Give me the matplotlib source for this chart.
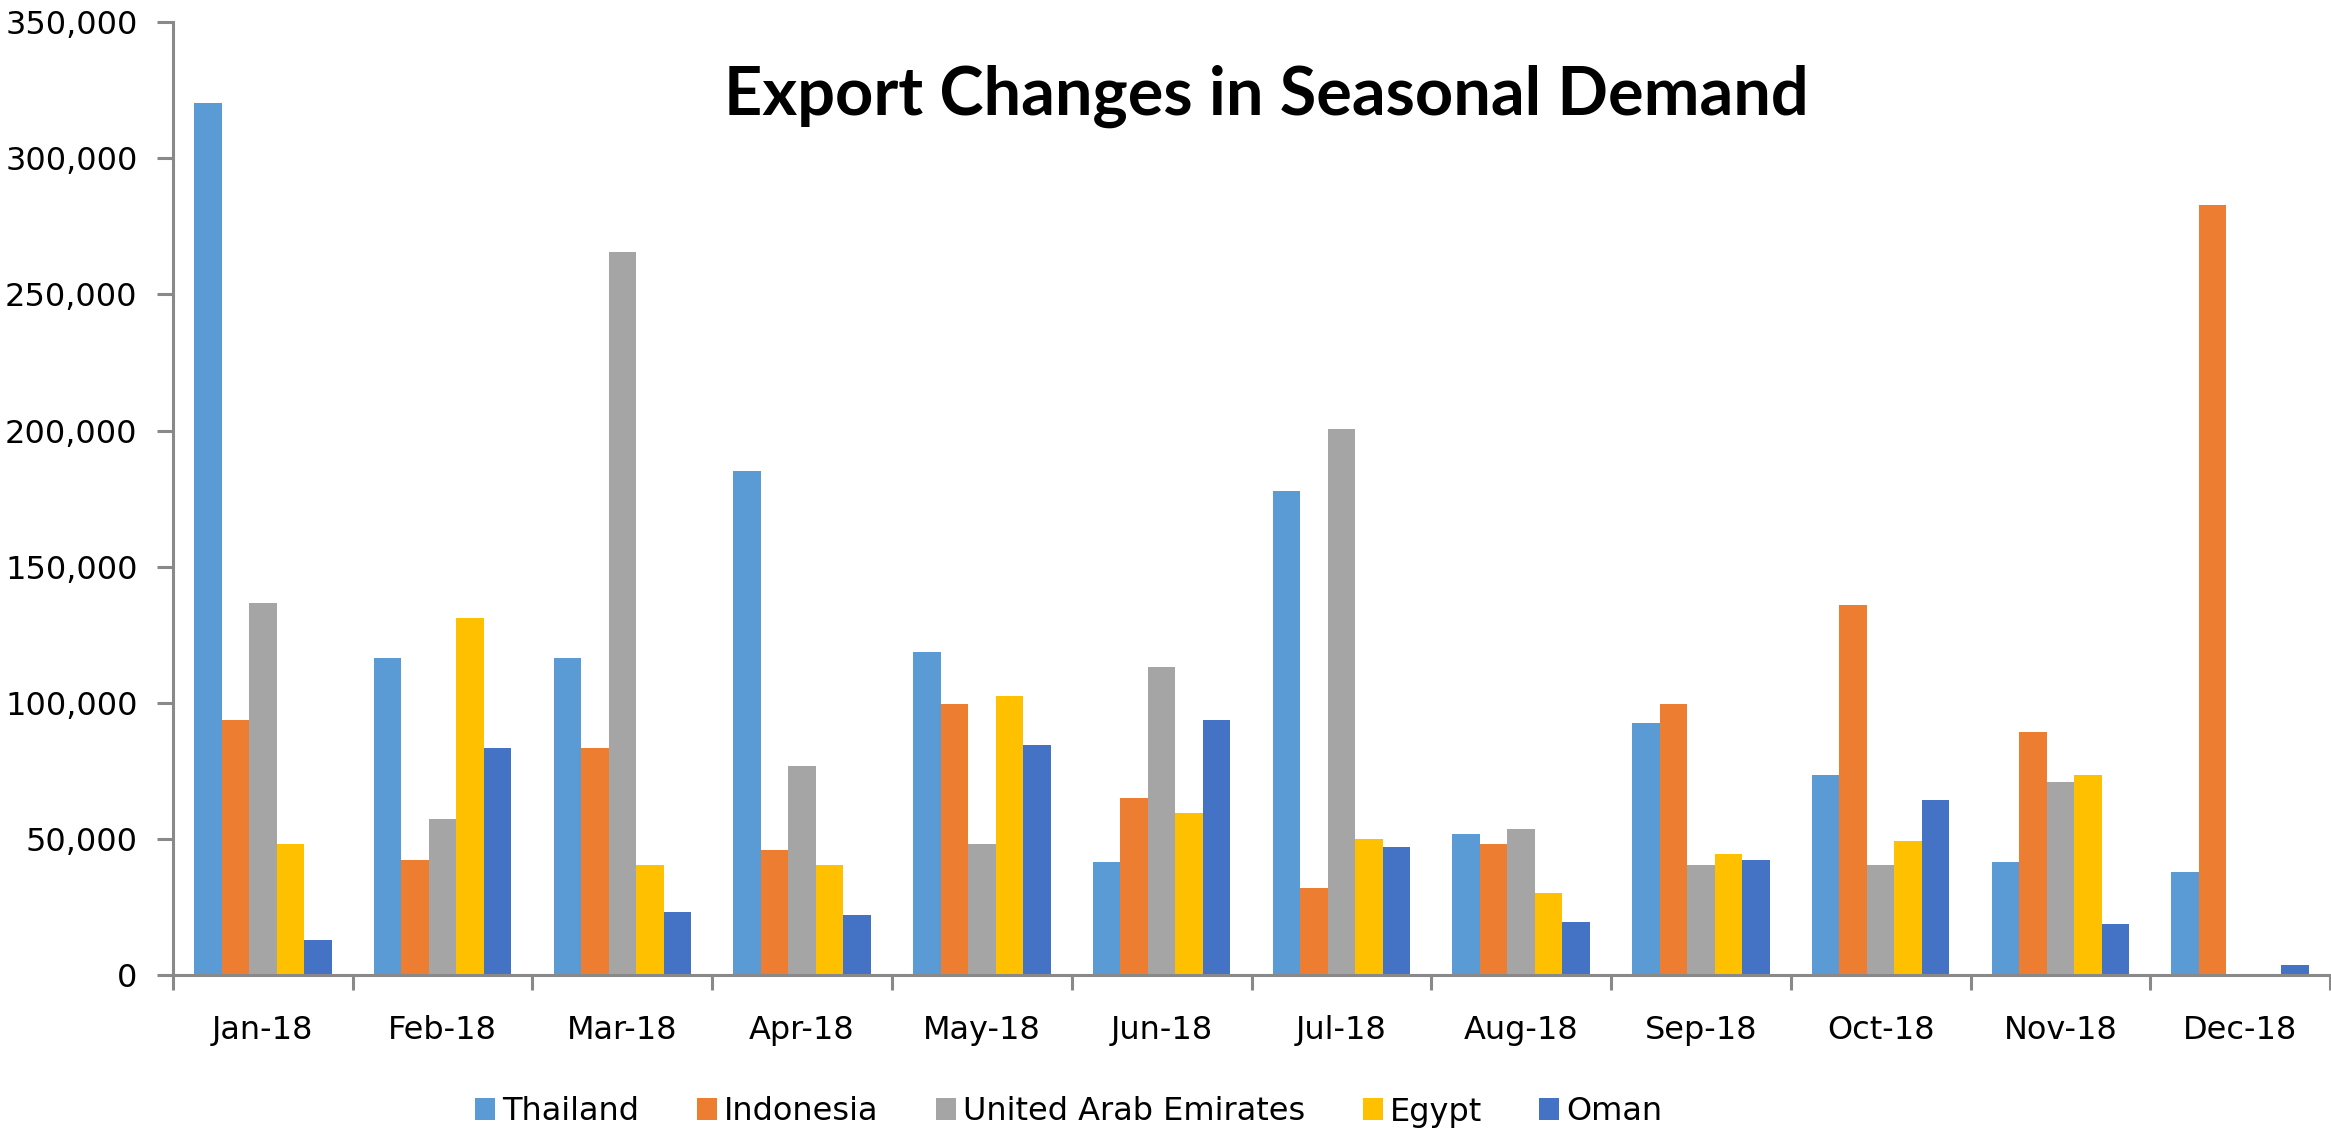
import numpy as np
import matplotlib
matplotlib.use("Agg")
import matplotlib.pyplot as plt
from matplotlib.ticker import FuncFormatter, FixedLocator

# Datos
meses = ["Jan-18", "Feb-18", "Mar-18", "Apr-18", "May-18", "Jun-18",
         "Jul-18", "Aug-18", "Sep-18", "Oct-18", "Nov-18", "Dec-18"]
paises = ["Thailand", "Indonesia", "United Arab Emirates", "Egypt", "Oman"]

thailand = [320500, 116400, 116400, 185100, 118800, 41400,
            177900, 51700, 92500, 73500, 41400, 37700]
indonesia = [93600, 42400, 83300, 45900, 99400, 65200,
             32100, 48000, 99400, 135800, 89100, 283000]
uae = [136800, 57300, 265700, 76600, 48000, 113000,
       200700, 53800, 40300, 40300, 70800, 0]
egypt = [48000, 131300, 40300, 40300, 102600, 59400,
         50100, 30000, 44600, 49100, 73500, 0]
oman = [12700, 83300, 23100, 22000, 84600, 93600,
        46900, 19600, 42400, 64200, 18600, 3600]

colores = ["#5B9BD5", "#ED7D31", "#A5A5A5", "#FFC000", "#4472C4"]
gris = "#898989"

series = [thailand, indonesia, uae, egypt, oman]

fig = plt.figure(figsize=(23.31, 11.32), dpi=100)
ax = fig.add_axes([0.0742, 0.1387, 0.9254, 0.8416])

x = np.arange(len(meses))
ancho = 0.153  # ancho de cada barra
barras = []
for i, (vals, col) in enumerate(zip(series, colores)):
    pos = x + (i - 2) * ancho
    b = ax.bar(pos, vals, width=ancho, color=col, linewidth=0)
    barras.append(b)

ax.set_xlim(-0.5, len(meses) - 0.5)
ax.set_ylim(0, 350000)
ax.set_yticks(np.arange(0, 350001, 50000))
ax.yaxis.set_major_formatter(FuncFormatter(lambda v, p: "{:,.0f}".format(v)))

# etiquetas en el centro, marcas entre categorias
ax.set_xticks(x)
ax.set_xticklabels(meses)
ax.xaxis.set_minor_locator(FixedLocator(np.arange(-0.5, len(meses), 1.0)))
ax.tick_params(axis="x", which="major", length=0, pad=29, labelsize=23)
ax.tick_params(axis="x", which="minor", length=11, width=2.2, color=gris,
               direction="out")
ax.tick_params(axis="y", length=11.5, width=2.2, color=gris, pad=14,
               labelsize=23, direction="out")

for s in ["top", "right"]:
    ax.spines[s].set_visible(False)
for s in ["left", "bottom"]:
    ax.spines[s].set_color(gris)
    ax.spines[s].set_linewidth(2.2)

fig.text(1266 / 2331, 1 - 96 / 1132, "Export Changes in Seasonal Demand",
         ha="center", va="center", fontsize=48, fontweight="bold",
         family="Lato")

fig.legend(barras, paises, loc="center", ncol=5, frameon=False,
           bbox_to_anchor=(1069 / 2331, 1 - 1112 / 1132), fontsize=23,
           handlelength=0.625, handleheight=0.69, handletextpad=0.22,
           columnspacing=1.8)

fig.savefig("out.png", dpi=100)
